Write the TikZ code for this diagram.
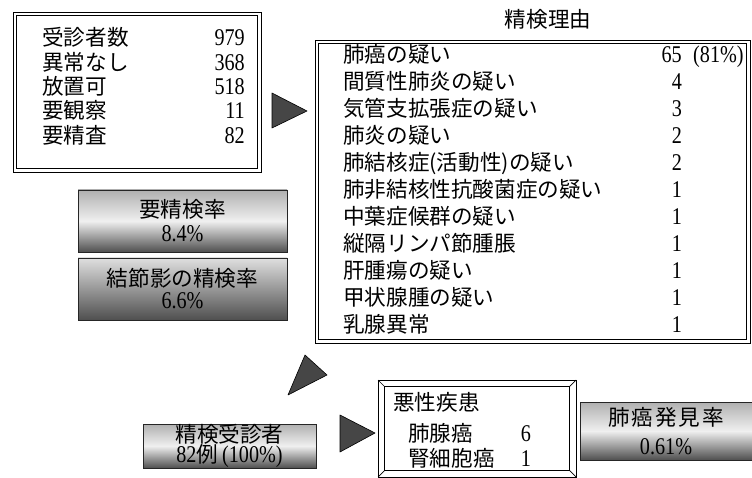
\documentclass[tikz,border=0pt]{standalone}
\usepackage{fontspec}
\setmainfont[FakeStretch=0.84,Scale=1.2]{Liberation Serif}
\newfontfamily\jp[Scale=1.08]{Noto Sans CJK JP}
\begin{document}
\begin{tikzpicture}[x=1pt,y=-1pt,
  txt/.style={inner sep=0pt, font=\fontsize{20}{24}\selectfont, text height=16pt, text depth=4pt},
  lbl/.style={txt, anchor=west},
  num/.style={txt, anchor=east},
  cnum/.style={txt, anchor=center},
  frameout/.style={draw=black, line width=0.7pt},
  framein/.style={draw=black, line width=1.3pt},
  gbox/.style={draw=gray!30!black, line width=0.6pt, inner sep=0pt, align=center,
    top color=gray!62, bottom color=gray!62!black, middle color=gray!12},
  tri/.style={draw=black, line width=0.6pt, fill=gray!55!black, line join=round}
]
\useasboundingbox (0,0) rectangle (752,478);

% ---- box 1
\draw[frameout] (13,12) rectangle (261,172);
\draw[framein] (16.5,15.5) rectangle (257.5,168.5);
\foreach \i/\l/\n in {0/受診者数/979, 1/異常なし/368, 2/放置可/518, 3/要観察/11, 4/要精査/82}{
  \node[lbl] (b1l\i) at (42,{40+24.3*\i}) {\jp \l};
  \node[num] (b1n\i) at (245,{40+24.3*\i}) {\n};
}

% ---- triangle 1
\coordinate (t1a) at (272,93);
\coordinate (t1b) at (307,111);
\coordinate (t1c) at (272,128);
\draw[tri] (t1a) -- (t1b) -- (t1c) -- cycle;

% ---- box 2
\node[txt] (title) at (548,22) {\jp 精検理由};
\draw[frameout] (315,40) rectangle (750,343);
\draw[framein] (318.5,43.5) rectangle (746.5,339.5);
\foreach \i/\l/\n in {1/間質性肺炎の疑い/4, 2/気管支拡張症の疑い/3, 3/肺炎の疑い/2,
  4/肺結核症(活動性)の疑い/2, 5/肺非結核性抗酸菌症の疑い/1, 6/中葉症候群の疑い/1,
  7/縦隔リンパ節腫脹/1, 8/肝腫瘍の疑い/1, 9/甲状腺腫の疑い/1, 10/乳腺異常/1}{
  \node[lbl] (b2l\i) at (343,{57+26.9*\i}) {\jp \l};
  \node[cnum] (b2n\i) at (677,{57+26.9*\i}) {\n};
}
\node[lbl] (b2l0) at (343,57) {\jp 肺癌の疑い};
\node[num] (b2n0) at (682,57) {65};
\node[lbl] (b2p0) at (693,57) {(81\%)};

% ---- grey boxes left
\node[gbox, minimum width=209pt, minimum height=62pt, font=\fontsize{20}{24}\selectfont]
  (rateA) at (182.5,221) {{\jp 要精検率}\\8.4\%};
\node[gbox, minimum width=209pt, minimum height=62pt, font=\fontsize{20}{22}\selectfont,
  top color=gray!25, middle color=gray!45, bottom color=gray!62!black]
  (rateB) at (182.5,289) {{\jp 結節影の精検率}\\6.6\%};

% ---- triangle 2
\coordinate (t2a) at (305,355);
\coordinate (t2b) at (327,375);
\coordinate (t2c) at (288,395);
\draw[tri] (t2a) -- (t2b) -- (t2c) -- cycle;

% ---- box C
\node[gbox, minimum width=173pt, minimum height=44pt, font=\fontsize{20}{20}\selectfont]
  (exam) at (229.5,446) {{\jp 精検受診者}\\82{\jp 例}\,(100\%)};

% ---- triangle 3
\coordinate (t3a) at (340,415);
\coordinate (t3b) at (375,433);
\coordinate (t3c) at (340,452);
\draw[tri] (t3a) -- (t3b) -- (t3c) -- cycle;

% ---- box 4
\draw[frameout] (378,380) rectangle (576,477);
\draw[framein] (384.5,386.5) rectangle (569.5,470.5);
\draw[frameout] (378,380) -- (384.5,386.5) (576,380) -- (569.5,386.5)
  (378,477) -- (384.5,470.5) (576,477) -- (569.5,470.5);
\node[lbl] (b4t) at (393,404) {\jp 悪性疾患};
\node[lbl] (b4l1) at (408,435) {\jp 肺腺癌};
\node[cnum] (b4n1) at (526,435) {6};
\node[lbl] (b4l2) at (408,460) {\jp 腎細胞癌};
\node[cnum] (b4n2) at (526,460) {1};

% ---- box D
\node[gbox, minimum width=172pt, minimum height=58pt, font=\fontsize{20}{29}\selectfont]
  (find) at (666,431) {{\jp 肺\hspace{2pt}癌\hspace{2pt}発\hspace{2pt}見\hspace{2pt}率}\\0.61\%};
\end{tikzpicture}
\end{document}
